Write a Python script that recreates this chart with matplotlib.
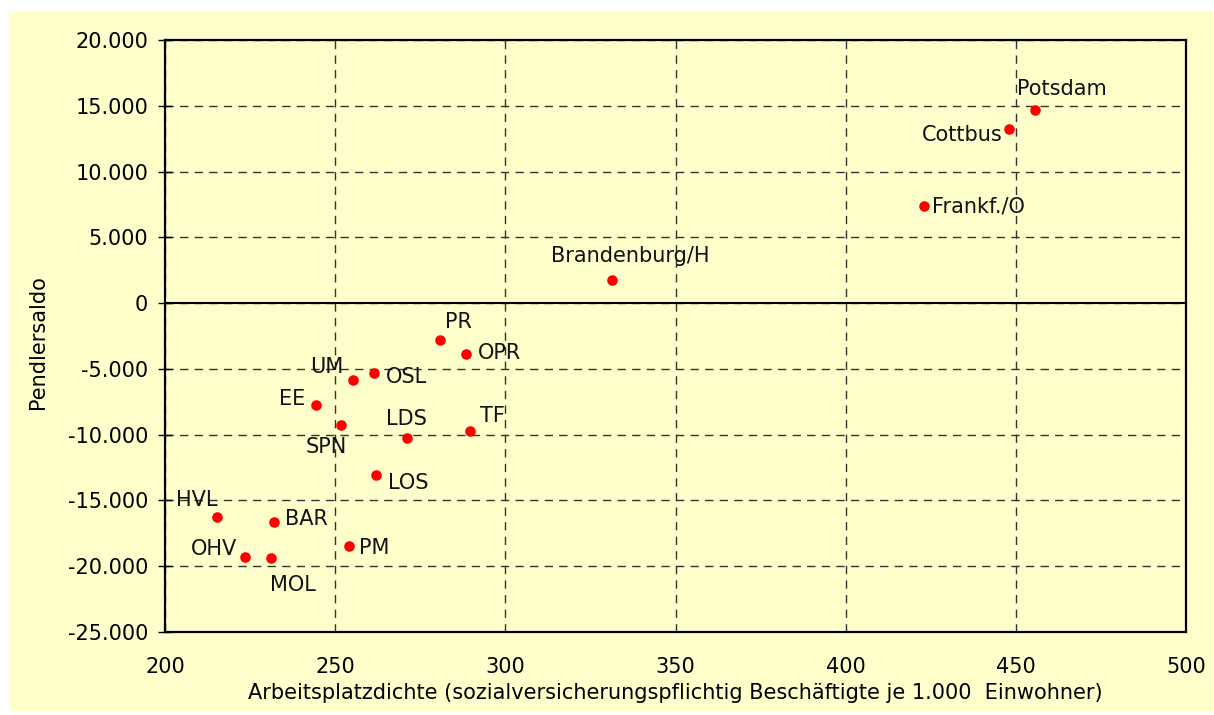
import matplotlib
matplotlib.use("Agg")
import matplotlib.pyplot as plt
from matplotlib.patches import Rectangle

names = ["Potsdam", "Cottbus", "Frankf./O", "Brandenburg/H", "PR", "OPR", "UM", "OSL",
         "EE", "SPN", "LDS", "TF", "LOS", "HVL", "BAR", "PM", "OHV", "MOL"]
arbeitsplatzdichte = [455.7, 448.1, 423.0, 331.4, 280.8, 288.5, 255.2, 261.4,
                      244.4, 251.6, 271.0, 289.5, 261.9, 215.3, 232.1, 254.1, 223.5, 231.1]
pendlersaldo = [14680, 13200, 7380, 1770, -2840, -3900, -5880, -5350,
                -7760, -9230, -10270, -9710, -13060, -16250, -16630, -18500, -19290, -19410]
# label offsets (pixels) and alignment
offsets = {
    "Potsdam": (-18, 21, "left"), "Cottbus": (-7, -6, "right"), "Frankf./O": (8, 0, "left"),
    "Brandenburg/H": (18, 24, "center"), "PR": (5, 18, "left"), "OPR": (12, 1, "left"),
    "UM": (-9, 13, "right"), "OSL": (12, -4, "left"), "EE": (-11, 6, "right"),
    "SPN": (-14, -22, "center"), "LDS": (0, 19, "center"), "TF": (10, 15, "left"),
    "LOS": (12, -8, "left"), "HVL": (0, 17, "right"), "BAR": (11, 3, "left"),
    "PM": (10, -2, "left"), "OHV": (-8, 8, "right"), "MOL": (22, -27, "center"),
}

x_ticks = [200, 250, 300, 350, 400, 450, 500]
y_ticks = [20000, 15000, 10000, 5000, 0, -5000, -10000, -15000, -20000, -25000]
y_tick_labels = ["20.000", "15.000", "10.000", "5.000", "0", "-5.000", "-10.000",
                 "-15.000", "-20.000", "-25.000"]
x_label = "Arbeitsplatzdichte (sozialversicherungspflichtig Beschäftigte je 1.000  Einwohner)"
y_label = "Pendlersaldo"

W, H = 1214, 715
fs = 15
fig = plt.figure(figsize=(W / 100, H / 100), dpi=100, facecolor="white")
bg = "#FFFFCC"
fig.patches.append(Rectangle((9 / W, 0.006), (W - 9) / W, 1 - 11 / H - 0.006,
                             transform=fig.transFigure, facecolor=bg, edgecolor="none", zorder=-10))

L, R, T, B = 165, 1186, 40, 632
ax = fig.add_axes([L / W, 1 - B / H, (R - L) / W, (B - T) / H])
ax.set_facecolor(bg)
px = 0.72  # points per pixel

ax.set_xlim(200, 500)
ax.set_ylim(-25000, 20000)
ax.set_xticks(x_ticks)
ax.set_yticks(y_ticks)
ax.set_yticklabels(y_tick_labels)
ax.grid(True, linestyle=(0, (6, 4.5)), color="#333333", linewidth=1.0)
ax.set_axisbelow(True)
ax.axhline(0, color="black", linewidth=1.5, zorder=1)

for s in ax.spines.values():
    s.set_linewidth(1.6)
    s.set_color("black")

ax.tick_params(axis="y", direction="inout", length=10, width=1, labelsize=fs, pad=7, colors="black")
ax.tick_params(axis="x", length=0, labelsize=fs, pad=18, colors="black")

ax.scatter(arbeitsplatzdichte, pendlersaldo, s=58, color="#FF0000", zorder=3, linewidths=0)

for n, xv, yv in zip(names, arbeitsplatzdichte, pendlersaldo):
    dx, dy, ha = offsets[n]
    ax.annotate(n, (xv, yv), xytext=(dx * px, dy * px), textcoords="offset points",
                ha=ha, va="center", fontsize=fs, color="#111111")

ax.set_xlabel(x_label, fontsize=fs)
ax.set_ylabel(y_label, fontsize=fs)
ax.xaxis.set_label_coords(0.5, (B - 693) / (B - T))
ax.xaxis.label.set_va("center")
ax.yaxis.set_label_coords((38 - L) / (R - L), 0.49)
ax.yaxis.label.set_va("center")

fig.savefig("out.png", dpi=100, facecolor=fig.get_facecolor())
